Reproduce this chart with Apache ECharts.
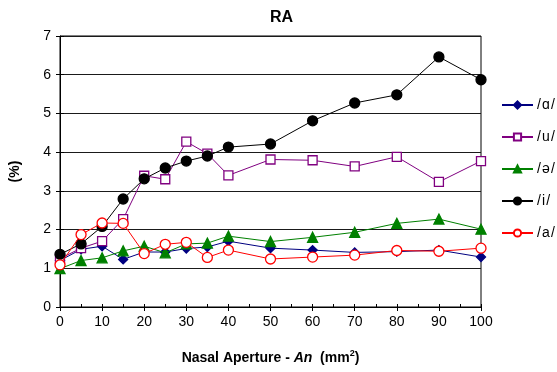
<!DOCTYPE html>
<html><head><meta charset="utf-8">
<script src="https://cdn.jsdelivr.net/npm/echarts@6/dist/echarts.min.js"></script>
<style>html,body{margin:0;padding:0;background:#fff}#c{width:557px;height:372px}</style>
</head><body><div id="c"></div>
<script>
const xValues = [0, 5, 10, 15, 20, 25, 30, 35, 40, 50, 60, 70, 80, 90, 100];
const seriesNames = ['/ɑ/', '/u/', '/ə/', '/i/', '/a/'];
const alphaBack = [1.20, 1.49, 1.57, 1.23, 1.42, 1.42, 1.51, 1.55, 1.70, 1.52, 1.47, 1.41, 1.43, 1.47, 1.29];
const uVals     = [1.25, 1.52, 1.70, 2.27, 3.39, 3.30, 4.27, 3.96, 3.40, 3.81, 3.79, 3.63, 3.88, 3.23, 3.77];
const schwaVals = [0.99, 1.20, 1.27, 1.45, 1.57, 1.40, 1.63, 1.65, 1.83, 1.69, 1.80, 1.93, 2.16, 2.27, 2.01];
const iVals     = [1.36, 1.63, 2.08, 2.79, 3.31, 3.59, 3.77, 3.90, 4.13, 4.21, 4.81, 5.27, 5.48, 6.46, 5.87];
const aVals     = [1.09, 1.87, 2.17, 2.16, 1.38, 1.62, 1.67, 1.28, 1.47, 1.24, 1.29, 1.34, 1.46, 1.44, 1.52];
const yTicks = { min: 0, max: 7, step: 1 };
const xTicks = { min: 0, max: 100, major: 10, minor: 5 };

const pair = (vals) => xValues.map((x, i) => [x, vals[i]]);
const styles = [
  { color: '#000080', symbol: 'diamond', size: 9, fill: '#000080' },
  { color: '#800080', symbol: 'rect', size: 9, fill: '#ffffff' },
  { color: '#008000', symbol: 'triangle', size: 10, fill: '#008000' },
  { color: '#000000', symbol: 'circle', size: 10, fill: '#000000' },
  { color: '#ff0000', symbol: 'circle', size: 10, fill: '#ffffff' }
];
const allVals = [alphaBack, uVals, schwaVals, iVals, aVals];
const font = '"Liberation Sans", Arial, sans-serif';

const chart = echarts.init(document.getElementById('c'), null, { renderer: 'canvas' });
chart.setOption({
  animation: false,
  backgroundColor: '#fff',
  textStyle: { fontFamily: font },
  title: { text: 'RA', left: 265, top: 5, textStyle: { fontFamily: font, fontWeight: 'bold', fontSize: 16, color: '#000' } },
  grid: { left: 55, right: 76, top: 36, bottom: 65, show: true, borderColor: '#000', borderWidth: 1, backgroundColor: 'transparent' },
  legend: {
    orient: 'vertical', left: 496, top: 93, itemWidth: 31, itemHeight: 9, itemGap: 18,
    textStyle: { fontFamily: font, fontSize: 14, color: '#000', padding: [0, 0, 0, -1] },
    formatter: n => n.split('').join('\u200a'),
    data: seriesNames
  },
  xAxis: [{
    type: 'value', min: xTicks.min, max: xTicks.max, interval: xTicks.major,
    axisLine: { lineStyle: { color: '#000', width: 1 } },
    axisTick: { show: true, length: 4, lineStyle: { color: '#000' } },
    axisLabel: { color: '#000', fontSize: 14, fontFamily: font, margin: 8 },
    splitLine: { show: false },
    name: '{b|Nasal Aperture - }{i|An}{b|  (mm}{s|2}{b|)}',
    nameLocation: 'middle', nameGap: 42,
    nameTextStyle: {
      rich: {
        b: { fontFamily: font, fontWeight: 'bold', fontSize: 14, color: '#000' },
        i: { fontFamily: font, fontWeight: 'bold', fontStyle: 'italic', fontSize: 14, color: '#000' },
        s: { fontFamily: font, fontWeight: 'bold', fontSize: 9, color: '#000', verticalAlign: 'top', padding: [0, 0, 10, 0] }
      }
    }
  }, {
    type: 'value', min: xTicks.min, max: xTicks.max, interval: xTicks.minor, position: 'bottom', offset: 0,
    axisLine: { show: false },
    axisTick: { show: true, inside: true, length: 3, lineStyle: { color: '#000' } },
    axisLabel: { show: false }, splitLine: { show: false }
  }],
  yAxis: [{
    type: 'value', min: yTicks.min, max: yTicks.max, interval: yTicks.step,
    axisLine: { show: true, lineStyle: { color: '#000', width: 1 } },
    axisTick: { show: true, length: 4, lineStyle: { color: '#000' } },
    axisLabel: { color: '#000', fontSize: 14, fontFamily: font, margin: 9 },
    splitLine: { show: true, lineStyle: { color: '#1a1a1a', width: 1 } },
    name: '(%)', nameLocation: 'middle', nameGap: 38, nameRotate: 90,
    nameTextStyle: { fontFamily: font, fontWeight: 'bold', fontSize: 14, color: '#000' }
  }, {
    type: 'value', min: yTicks.min, max: yTicks.max, interval: yTicks.step, position: 'left', offset: 0,
    axisLine: { show: false },
    axisTick: { show: true, inside: true, length: 4, lineStyle: { color: '#000' } },
    axisLabel: { show: false }, splitLine: { show: false }
  }],
  series: seriesNames.map((name, k) => ({
    name, type: 'line', xAxisIndex: 0, yAxisIndex: 0,
    data: pair(allVals[k]),
    symbol: styles[k].symbol, symbolSize: styles[k].size, showAllSymbol: true,
    lineStyle: { color: styles[k].color, width: 1 },
    itemStyle: { color: styles[k].fill, borderColor: styles[k].color, borderWidth: 1.3 },
    z: 2 + k
  }))
});
</script></body></html>
